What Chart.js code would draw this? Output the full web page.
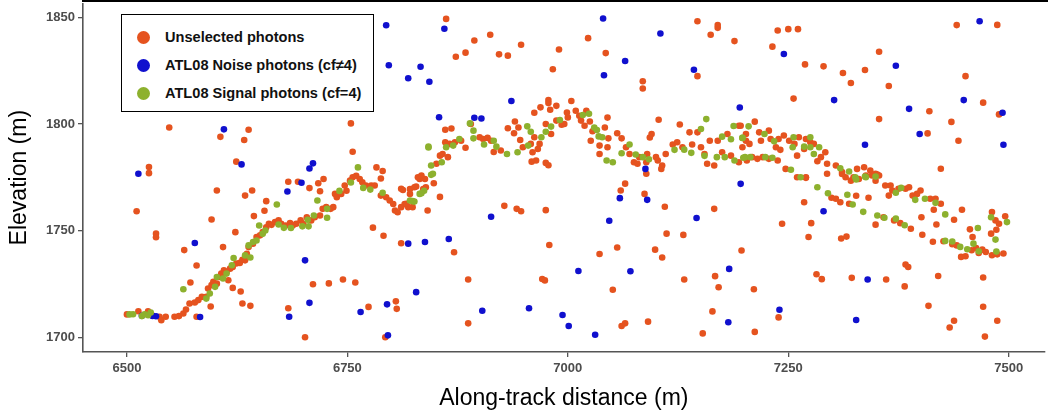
<!DOCTYPE html>
<html>
<head>
<meta charset="utf-8">
<script src="https://cdn.jsdelivr.net/npm/chart.js@4.4.1/dist/chart.umd.min.js"></script>
<style>
  html, body { margin: 0; padding: 0; background: #fff; }
  #wrap { position: relative; width: 1048px; height: 417px; }
  #legend {
    position: absolute; left: 121px; top: 14px; width: 251px; height: 96px;
    border: 1.5px solid #000; background: #fff;
    font-family: "Liberation Sans", Arial, sans-serif; font-weight: bold; font-size: 14.6px; color: #111;
  }
  .item { position: absolute; left: 0; height: 20px; line-height: 20px; white-space: nowrap; }
  .dot { position: absolute; left: 15px; top: 3.5px; width: 13px; height: 13px; border-radius: 50%; }
  .lbl { position: absolute; left: 43px; top: 0; }
</style>
</head>
<body>
<div id="wrap">
  <canvas id="c" width="1048" height="417"></canvas>
  <div id="legend"></div>
</div>
<script>
// ---------------- data (along-track distance m, elevation m) ----------------
const seriesNames = ["Unselected photons", "ATL08 Noise photons (cf\u22604)", "ATL08 Signal photons (cf=4)"];
const seriesColors = ["#E5531F", "#1010CE", "#8DB12E"];
const xTickValues = [6500, 6750, 7000, 7250, 7500];
const yTickValues = [1700, 1750, 1800, 1850];

const unselectedOutliers = [
  [6548,1798.4],[6525,1779.9],[6525,1777],[6511,1759.2],[6533,1748.7],[6533,1747],[6606,1794],[6633,1792.5],
  [6638,1797.3],[6624,1782.4],[6602,1768.9],[6634,1766.5],[6642,1768.9],[6596,1755.3],[6565,1741],[6579,1733.8],
  [6572,1725.8],[6623,1749.4],[6609,1742.4],[6644,1756.9],[6658,1763.9],[6656,1759.4],[6620,1723.3],[6629,1721.6],
  [6631,1716],[6640,1714.9],[6595,1714.6],[6579,1709.8],[6683,1773],[6694,1773],[6683,1713.8],[6702,1700.2],
  [6707,1770],[6717,1772.3],[6723,1774.3],[6719,1768.5],[6754,1800.3],[6756,1787],[6783,1779.7],[6790,1778],
  [6788,1774.5],[6779,1751.5],[6791,1747.7],[6811,1744.2],[6711,1725],[6729,1725.4],[6745,1727.2],[6759,1725.8],
  [6774,1714.4],[6805,1717],[6806,1713.5],[6793,1700.2],
  [6862,1849.2],[6894,1839.1],[6912,1841.8],[6884,1833.4],[6873,1831.5],[6922,1832.6],[6932,1832],[6947,1837.1],
  [6990,1834.9],[6983,1825.6],[7023,1840.2],[7043,1833.2],[7085,1820],[7085,1816.6],[7147,1848.1],[7162,1841.8],
  [7170,1846.3],[7170,1845],[7189,1838.8],[7147,1822.4],[7103,1802],[7127,1799.8],[7045,1803],[7004,1810.8],
  [6978,1811.2],[6978,1809.8],[6861,1797.3],[6868,1797.9],[6884,1788.9],[6975,1781.8],[6978,1780.7],[6959,1782.4],
  [7106,1779],[7093,1793.7],[7095,1795.3],
  [6928,1761.7],[6942,1760.3],[6947,1759.2],[6975,1759.7],[6979,1743.4],[6871,1740],[6887,1727.2],[6971,1727.5],
  [6974,1726.8],[6887,1706.7],[7036,1739.2],[7056,1742.2],[7051,1722.4],[7061,1705.5],[7065,1706.7],[7091,1707.5],
  [7060,1768.9],[7065,1772.1],[7087,1767.3],[7089,1776.7],[7110,1761.3],[7112,1748.7],[7099,1741.2],[7107,1737.5],
  [7131,1748.1],[7132,1727.2],[7166,1760.3],[7197,1740.8],[7167,1728.8],[7171,1723.6],[7164,1712.3],[7153,1702],
  [7238,1843.8],[7250,1844.4],[7261,1844.4],[7232,1836.2],[7269,1827.9],[7290,1827],[7312,1823.9],[7321,1819.2],
  [7337,1825.3],[7353,1833.8],[7364,1817.8],[7256,1811.9],[7353,1802.3],[7410,1806],[7435,1801],[7443,1792.2],
  [7408,1795.6],[7441,1846.3],[7487,1846.4],[7451,1822.4],[7471,1810],[7489,1804.5],[7423,1779.1],
  [7268,1763.4],[7243,1753.3],[7276,1753.6],[7273,1747.1],[7310,1746.4],[7316,1747.3],[7211,1722.7],[7212,1702.7],
  [7239,1709.5],[7282,1729.7],[7288,1727.4],[7322,1728],[7361,1727.2],[7383,1734.2],[7386,1733.1],[7382,1724],
  [7420,1728.9],[7409,1714.9],[7471,1728.2],[7471,1714.5],[7438,1707.9],[7433,1704.8],[7487,1707.9],[7473,1700.5]
];

const unselectedBand = [
  [6500,1710.9],[6513,1712.4],[6524,1712.4],[6528,1710.6],[6537,1709.8],[6539,1708.2],[6544,1709.8],[6554,1709.8],
  [6559,1710.1],[6564,1711.3],[6567,1713.2],[6571,1716],[6577,1716.5],[6581,1717.6],[6585,1719.1],[6590,1719.1],
  [6592,1723],[6596,1724.6],[6598,1726.1],[6602,1725.3],[6605,1728.4],[6607,1730],[6610,1731.5],[6613,1730.8],
  [6615,1726.9],[6617,1732.3],[6620,1733.1],[6624,1734.7],[6628,1735],[6631,1736.5],[6634,1736.2],[6636,1739.3],
  [6638,1742.4],[6643,1744],[6647,1747.1],[6651,1747.9],[6654,1749.4],[6658,1751.7],[6661,1753.3],[6664,1752.8],
  [6668,1754.1],[6672,1754.9],[6675,1753.3],[6680,1752.5],[6685,1753.6],[6688,1752.5],[6692,1753.3],[6697,1754.9],
  [6700,1753.3],[6704,1756.4],[6709,1754.9],[6713,1756.4],[6719,1757.2],[6722,1760.3],[6726,1761.1],[6731,1760.3],
  [6734,1761.1],[6736,1767.3],[6738,1765.7],[6743,1767.3],[6747,1771.2],[6749,1768.8],[6753,1773.5],[6756,1775.1],
  [6760,1775.8],[6764,1774.3],[6767,1772.7],[6771,1771.2],[6777,1771.2],[6781,1771.2],[6788,1766.5],[6794,1765.7],
  [6798,1764.2],[6802,1762.6],[6804,1759.5],[6807,1758.7],[6811,1761.1],[6813,1769.1],[6815,1762.6],[6819,1761.1],
  [6821,1769.6],[6824,1761.1],[6828,1770.7],[6832,1774.3],[6836,1769.6],[6839,1770.4],[6841,1759.5],
  [6830,1775.1],[6838,1774.3],[6848,1772.3],[6855,1765.9],[6817,1762.7],[6821,1767.3],[6826,1770.4],[6811,1769.7],
  [6834,1775.9],[6851,1781.4],[6855,1785.2],[6858,1786],[6861,1791.5],[6866,1790.7],[6864,1784.5],[6872,1791.5],
  [6879,1792.2],[6890,1800],[6900,1793.8],[6904,1793],[6909,1793.5],[6913,1792.2],[6916,1786.9],[6924,1787.6],
  [6932,1798],[6940,1801.2],[6939,1795.7],[6944,1798.4],[6946,1792.5],[6949,1789.1],[6958,1790.7],[6960,1786.8],
  [6962,1793.8],[6966,1788.3],[6968,1790.7],[6969,1807.8],[6964,1782.9],[6962,1805.3],[6975,1800],[6980,1806.7],
  [6987,1808.5],[6981,1795.3],[6987,1801.6],[6993,1799.7],[6996,1800],[6999,1805.4],[7000,1803.1],[7009,1806.2],
  [7013,1803.9],[7015,1801.6],[7019,1799.2],[7021,1806.2],[7025,1801.2],[7028,1796.6],[7026,1792.2],[7036,1789.9],
  [7036,1786],[7045,1789.1],[7042,1798.4],[7046,1793.3],[7056,1795.7],[7061,1793.3],[7066,1789.1],[7070,1786],
  [7075,1782.1],[7079,1781.4],[7081,1784.5],[7089,1782.1],[7090,1786],[7100,1784.5],[7102,1782.9],[7107,1780.6],
  [7111,1786],[7119,1790.4],[7124,1791.5],[7130,1789.1],[7138,1796.1],[7141,1790.4],[7147,1796.1],[7151,1789.1],
  [7155,1786],[7158,1781.4],[7161,1792.2],[7166,1780.6],[7170,1792.2],[7175,1786.8],[7181,1795.3],[7185,1785.2],
  [7194,1782.1],[7196,1799.2],[7198,1789.1],[7202,1792.2],
  [7194,1799.2],[7202,1795.3],[7206,1790.7],[7212,1801.1],[7217,1796.1],[7219,1792.2],[7228,1796.9],[7230,1793],
  [7236,1789.1],[7239,1793],[7241,1787.9],[7245,1794.6],[7251,1792.2],[7257,1790.7],[7260,1785.2],[7262,1793.8],
  [7268,1788.3],[7270,1793],[7275,1791.5],[7279,1790.7],[7287,1784.5],[7283,1782.6],[7292,1786.8],[7294,1781.4],
  [7294,1776.7],[7304,1780.6],[7311,1777.5],[7315,1775.1],[7328,1779],[7336,1779.8],[7343,1778.2],[7349,1776.7],
  [7353,1775.9],[7203,1782.9],[7209,1784.5],[7215,1783.7],[7221,1784.5],[7228,1783.7],[7238,1782.9],[7247,1779],
  [7270,1775.1],[7260,1775.1],
  [7270,1774.8],[7311,1776.6],[7321,1773.5],[7324,1775.1],[7330,1774.3],[7338,1775.9],[7345,1775.9],[7351,1776.3],
  [7349,1773.5],[7360,1771.2],[7366,1771.2],[7368,1768.9],[7364,1766.5],[7375,1769.7],[7383,1769.7],[7387,1770.4],
  [7391,1766.5],[7396,1767.3],[7400,1768.9],[7411,1765],[7417,1765],[7423,1762.7],[7415,1759.9],[7401,1756.4],
  [7418,1753],[7438,1755.2],[7447,1759.9],[7402,1748.2],[7414,1744.9],[7426,1745.1],[7436,1743.7],[7441,1743.2],
  [7446,1737.8],[7451,1738.1],[7458,1740.9],[7474,1740.1],[7481,1738.6],[7494,1739.4],[7481,1758.8],[7485,1754.9],
  [7489,1753.3],[7496,1756.8],[7486,1750.5],[7480,1748.7],[7459,1747.1],[7456,1750.7],[7299,1765.5],[7309,1763.4],
  [7304,1765],[7319,1762.7],[7327,1766.4],[7341,1765.5],[7349,1752.9],[7358,1756.4],[7370,1754.9],[7377,1753.6],
  [7389,1751],[7466,1739.6],[7470,1741.2],[7487,1739],[7463,1742]
];

const noise = [
  [6513,1776.7],[6610,1797.5],[6630,1781.1],[6577,1744.3],[6583,1709.7],[6682,1768.4],[6698,1772.5],[6707,1779.2],
  [6711,1781.6],[6702,1736.2],[6707,1716.3],[6684,1709.8],[6765,1712],[6795,1715.6],[6796,1701.1],[6819,1744],
  [6838,1744.8],[6828,1721.3],[6860,1844.6],[6833,1826.8],[6819,1821.4],[6843,1819.8],[7040,1849.4],[7105,1842.4],
  [7065,1829.5],[7041,1822.8],[7143,1825.4],[6936,1810.8],[6854,1803.2],[6894,1802.9],[6902,1802.6],[7195,1807.7],
  [7088,1779],[6913,1756.6],[6865,1746.2],[6903,1712.6],[6956,1713.8],[6994,1710.6],[7001,1705.5],[7031,1701.4],
  [7012,1731.2],[7071,1731.1],[7047,1754.7],[7059,1765.3],[7090,1764.5],[7146,1756],[7196,1772],[7183,1732.2],
  [7182,1707.2],[7245,1832.8],[7467,1848.1],[7372,1827.3],[7302,1811.2],[7387,1807.1],[7449,1811.2],[7493,1805.3],
  [7494,1790.3],[7337,1790.3],[7399,1795.3],[7290,1759.2],[7340,1727.2],[7240,1713.1],[7327,1708.3],[6794,1846.2],
  [6797,1827.5],[6517,1710.3],[6533,1710],[6529,1710.2]
];

const signal = [
  [6503,1710.9],[6507,1711],[6517,1710.1],[6520,1711],[6524,1710.5],[6527,1711.8],[6564,1722.7],[6590,1718.3],
  [6594,1720.7],[6600,1723.8],[6602,1728.4],[6609,1727.7],[6613,1730],[6619,1733.9],[6621,1737.3],[6634,1738.5],
  [6640,1737.5],[6638,1743.2],[6643,1744.8],[6647,1745.5],[6650,1752.5],[6654,1748.6],[6657,1750.2],[6670,1762.3],
  [6672,1753],[6678,1751.4],[6686,1751.3],[6699,1752.1],[6706,1752.1],[6705,1755.2],[6712,1757.2],[6716,1764.2],
  [6727,1760.3],[6727,1756.1],[6741,1768.7],[6754,1772.6],[6762,1779.7],[6768,1770.1],[6776,1769.3],[6790,1767.8],
  [6821,1764.2],[6826,1763.7],[6832,1767.3],[6837,1768.8],[6842,1789],[6845,1776.2],[6834,1767.6],[6824,1763.9],
  [6842,1789.4],[6845,1780.6],[6847,1776.7],[6857,1782.1],[6862,1789.1],[6870,1789.9],[6877,1793],[6889,1800.3],
  [6893,1796.9],[6893,1793.3],[6905,1790.4],[6916,1792.2],[6919,1789.4],[6931,1786],[6943,1786.8],[6954,1798.9],
  [6955,1789.9],[6958,1796.4],[6970,1793.8],[6975,1796.4],[6981,1798.8],[6991,1801.9],[7017,1804.2],[7024,1804.8],
  [7030,1798.4],[7033,1797.2],[7035,1794.2],[7039,1793.8],[7044,1782.9],[7051,1782.1],[7061,1786.3],[7070,1790.4],
  [7077,1785.7],[7085,1784.5],[7092,1783.5],[7121,1787.9],[7132,1788],[7140,1786.5],[7151,1797.7],[7155,1785.1],
  [7157,1802.3],[7169,1784.5],[7175,1794.1],[7178,1784.5],[7185,1792.9],[7188,1799.1],[7189,1782.9],[7198,1793.5],
  [7201,1784.5],[7205,1798.9],[7198,1793.5],[7199,1784.2],[7207,1784.5],[7223,1795.3],[7224,1784.5],[7232,1784.2],
  [7234,1791.9],[7253,1778.6],[7256,1793.8],[7255,1789.1],[7268,1789.4],[7275,1793.8],[7275,1789.1],[7279,1786],
  [7285,1789.1],[7309,1779.3],[7319,1777.8],[7264,1775.1],[7326,1775.1],[7337,1775.4],[7349,1775.4],
  [7283,1770.4],[7295,1767.6],[7317,1766.9],[7323,1762.3],[7335,1758.9],[7351,1757.2],[7359,1756.1],
  [7372,1755.7],[7382,1752.6],[7378,1770.1],[7372,1767.8],[7394,1764.5],[7405,1765],[7417,1763.1],[7428,1757.7],
  [7428,1745.3],[7445,1742.5],[7453,1741.4],[7460,1744],[7466,1740.4],[7465,1751.3],[7480,1756.4],[7485,1745.9],
  [7486,1740.3],[7498,1754.1],[7436,1745],[7327,1774],[7338,1775.1]
];

const unselected = unselectedOutliers.concat(unselectedBand);
const seriesData = [unselected, noise, signal];

// ---------------- legend (HTML, real text) ----------------
const legend = document.getElementById('legend');
seriesNames.forEach((name, i) => {
  const it = document.createElement('div');
  it.className = 'item';
  it.style.top = (12 + i * 28) + 'px';
  it.style.width = '100%';
  const d = document.createElement('span'); d.className = 'dot'; d.style.background = seriesColors[i];
  const t = document.createElement('span'); t.className = 'lbl'; t.textContent = name;
  it.appendChild(d); it.appendChild(t); legend.appendChild(it);
});

// ---------------- chart ----------------
const topBorder = {
  id: 'topBorder',
  afterDraw(chart) {
    const {ctx, chartArea} = chart;
    ctx.save();
    ctx.strokeStyle = '#000';
    ctx.lineWidth = 2;
    ctx.beginPath();
    ctx.moveTo(chartArea.left - 1, 1);
    ctx.lineTo(1048, 1);
    ctx.stroke();
    ctx.restore();
  }
};

const tickFont = { family: "'Liberation Sans', Arial, sans-serif", size: 13, weight: 'bold' };
const titleFont = { family: "'Liberation Sans', Arial, sans-serif", size: 23, weight: 'normal' };

new Chart(document.getElementById('c'), {
  type: 'scatter',
  data: {
    datasets: seriesData.map((arr, i) => ({
      label: seriesNames[i],
      data: arr.map(p => ({ x: p[0], y: p[1] })),
      backgroundColor: seriesColors[i],
      borderWidth: 0,
      pointRadius: 3.3,
      pointHoverRadius: 3.3,
      order: 3 - i
    }))
  },
  options: {
    responsive: false,
    animation: false,
    devicePixelRatio: 1,
    layout: { padding: { left: 0, right: 2, top: 2, bottom: 0 } },
    plugins: { legend: { display: false }, tooltip: { enabled: false } },
    scales: {
      x: {
        type: 'linear', min: 6450.2, max: 7540.8,
        afterBuildTicks: s => { s.ticks = xTickValues.map(v => ({ value: v })); },
        afterFit: s => { s.height = 65; s.paddingLeft = 0; s.paddingRight = 0; },
        border: { display: true, color: '#555', width: 1.6 },
        grid: { display: true, drawOnChartArea: false, drawTicks: true, tickLength: 5, color: '#555', lineWidth: 1.3 },
        ticks: { color: '#4D4D4D', font: tickFont, padding: 4, maxRotation: 0, callback: v => String(v) },
        title: { display: true, text: 'Along-track distance (m)', color: '#000', font: titleFont, padding: { top: 0, bottom: 5 } }
      },
      y: {
        type: 'linear', min: 1693.3, max: 1856.5,
        afterBuildTicks: s => { s.ticks = yTickValues.map(v => ({ value: v })); },
        afterFit: s => { s.width = 83; s.paddingTop = 0; s.paddingBottom = 0; },
        border: { display: true, color: '#555', width: 1.6 },
        grid: { display: true, drawOnChartArea: false, drawTicks: true, tickLength: 5, color: '#555', lineWidth: 1.3 },
        ticks: { color: '#4D4D4D', font: tickFont, padding: 3, callback: v => String(v) },
        title: { display: true, text: 'Elevation (m)', color: '#000', font: titleFont, padding: { top: 6, bottom: 0 } }
      }
    }
  },
  plugins: [topBorder]
});
</script>
</body>
</html>
